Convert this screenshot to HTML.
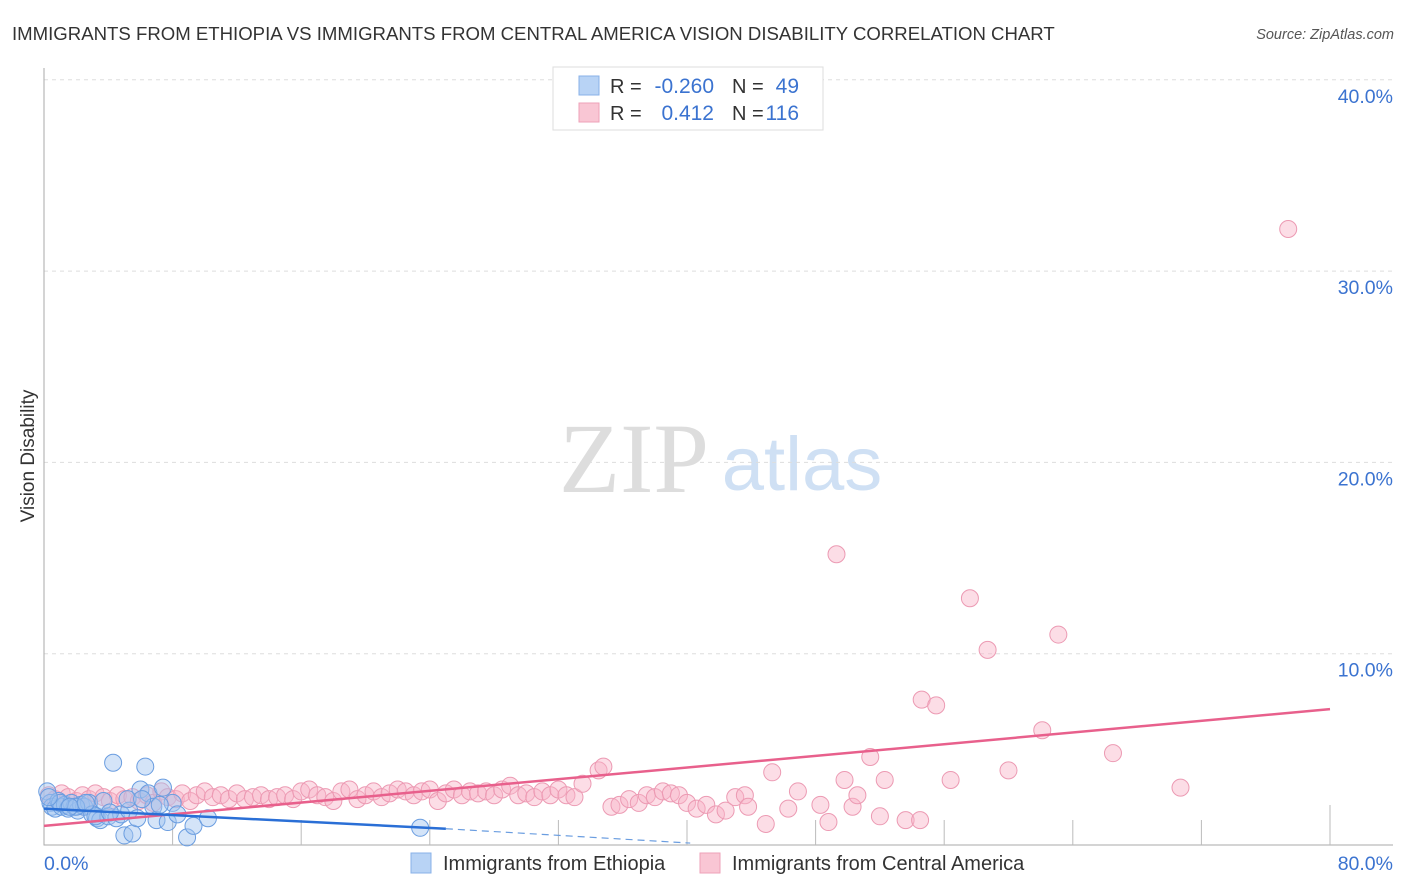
<!DOCTYPE html>
<html><head><meta charset="utf-8"><style>
body{margin:0;background:#fff;font-family:"Liberation Sans",sans-serif;}
#wrap{position:relative;width:1406px;height:892px;overflow:hidden;}
</style></head><body>
<div id="wrap">
<svg id="svg" width="1406" height="892" xmlns="http://www.w3.org/2000/svg">
<text x="12" y="40" font-size="18.6" fill="#333">IMMIGRANTS FROM ETHIOPIA VS IMMIGRANTS FROM CENTRAL AMERICA VISION DISABILITY CORRELATION CHART</text>
<text x="1394" y="39" font-size="14.5" fill="#555" font-style="italic" text-anchor="end">Source: ZipAtlas.com</text>
<text x="34" y="456" font-size="19" fill="#333" transform="rotate(-90 34 456)" text-anchor="middle">Vision Disability</text>
<g>
<text x="634" y="492" font-size="100" fill="#ddd" font-family="Liberation Serif,serif" text-anchor="middle">ZIP</text>
<text x="802" y="490" font-size="76" fill="#cfe0f4" text-anchor="middle">atlas</text>
</g>
<g id="grid"></g>
<g id="axes"></g>
<g id="pts"></g>
<g id="lines"></g>
<g>
<rect x="553" y="67" width="270" height="63" fill="#fff" stroke="#ddd"/>
<rect x="579" y="76" width="20" height="19" fill="#b8d3f5" stroke="#88b1e8"/>
<rect x="579" y="103" width="20" height="19" fill="#f9c6d4" stroke="#eea2b8"/>
<text x="610" y="93" font-size="20" fill="#333">R =</text>
<text x="714" y="93" font-size="21" fill="#3b73d0" text-anchor="end">-0.260</text>
<text x="732" y="93" font-size="20" fill="#333">N =</text>
<text x="799" y="93" font-size="21" fill="#3b73d0" text-anchor="end">49</text>
<text x="610" y="120" font-size="20" fill="#333">R =</text>
<text x="714" y="120" font-size="21" fill="#3b73d0" text-anchor="end">0.412</text>
<text x="732" y="120" font-size="20" fill="#333">N =</text>
<text x="799" y="120" font-size="21" fill="#3b73d0" text-anchor="end">116</text>
</g>
<g>
<rect x="411" y="853" width="20" height="20" fill="#b8d3f5" stroke="#88b1e8"/>
<text x="443" y="870" font-size="20" fill="#333">Immigrants from Ethiopia</text>
<rect x="700" y="853" width="20" height="20" fill="#f9c6d4" stroke="#eea2b8"/>
<text x="732" y="870" font-size="20" fill="#333">Immigrants from Central America</text>
</g>
</svg>
</div>
<script>
const yTicks=[10,20,30,40];
const yTickLabels=["10.0%","20.0%","30.0%","40.0%"];
const xTickLabels=["0.0%","80.0%"];
const blueX=[0.2,0.4,0.5,0.7,0.9,1.1,1.3,1.5,1.7,1.9,2.1,2.3,2.5,2.8,3.0,3.3,3.5,3.7,4.0,4.3,4.5,4.8,5.0,5.3,5.5,5.8,6.0,6.3,6.5,6.8,7.0,7.4,7.7,8.0,8.3,8.9,9.3,10.2,23.4,1.0,2.0,3.2,5.2,6.1,7.2,1.6,2.6,4.1,0.3];
const blueY=[2.8,2.2,2.0,1.9,2.3,2.0,2.1,1.9,2.2,2.0,1.8,2.1,2.0,2.2,1.6,1.4,1.3,2.3,1.5,4.3,1.4,1.6,0.5,1.8,0.6,1.4,2.9,4.1,2.7,2.0,1.3,3.0,1.2,2.2,1.6,0.4,1.0,1.4,0.9,2.2,2.0,1.5,2.4,2.4,2.1,2.0,2.2,1.7,2.5];
const pinkX=[0.3,0.7,1.1,1.5,2.0,2.4,2.8,3.2,3.7,4.1,4.6,5.0,5.5,5.9,6.4,6.8,7.3,7.7,8.2,8.6,9.1,9.5,10.0,10.5,11.0,11.5,12.0,12.5,13.0,13.5,14.0,14.5,15.0,15.5,16.0,16.5,17.0,17.5,18.0,18.5,19.0,19.5,20.0,20.5,21.0,21.5,22.0,22.5,23.0,23.5,24.0,24.5,25.0,25.5,26.0,26.5,27.0,27.5,28.0,28.5,29.0,29.5,30.0,30.5,31.0,31.5,32.0,32.5,33.0,33.5,34.5,34.8,35.3,35.8,36.4,37.0,37.5,38.0,38.5,39.0,39.5,40.0,40.6,41.2,41.8,42.4,43.0,43.6,43.8,44.9,45.3,46.3,46.9,48.3,48.8,49.3,49.8,50.3,50.6,51.4,52.0,52.3,53.6,54.5,54.6,55.5,56.4,57.6,58.7,60.0,62.1,63.1,66.5,70.7,77.4,2.5];
const pinkY=[2.6,2.4,2.7,2.5,2.3,2.6,2.4,2.7,2.5,2.3,2.6,2.4,2.5,2.3,2.6,2.2,2.8,2.5,2.4,2.7,2.3,2.6,2.8,2.5,2.6,2.4,2.7,2.4,2.5,2.6,2.4,2.5,2.6,2.4,2.8,2.9,2.6,2.5,2.3,2.8,2.9,2.4,2.6,2.8,2.5,2.7,2.9,2.8,2.6,2.8,2.9,2.3,2.7,2.9,2.6,2.8,2.7,2.8,2.6,2.9,3.1,2.6,2.7,2.5,2.8,2.6,2.9,2.6,2.5,3.2,3.9,4.1,2.0,2.1,2.4,2.2,2.6,2.5,2.8,2.7,2.6,2.2,1.9,2.1,1.6,1.8,2.5,2.6,2.0,1.1,3.8,1.9,2.8,2.1,1.2,15.2,3.4,2.0,2.6,4.6,1.5,3.4,1.3,1.3,7.6,7.3,3.4,12.9,10.2,3.9,6.0,11.0,4.8,3.0,32.2,2.0];
const X=v=>44+v*16.075, Y=v=>845-v*19.13;
const NS='http://www.w3.org/2000/svg';
function mk(t,a,p){const e=document.createElementNS(NS,t);for(const k in a)e.setAttribute(k,a[k]);p.appendChild(e);return e;}
const grid=document.getElementById('grid'),axes=document.getElementById('axes'),pts=document.getElementById('pts'),lines=document.getElementById('lines');
yTicks.forEach((t,i)=>{
 const g=mk('line',{x1:44,x2:1393,y1:Y(t),y2:Y(t),stroke:'#ddd','stroke-dasharray':'4,4'},grid);
 
 
 const l=mk('text',{x:1393,y:Y(t)+23,'font-size':19.5,fill:'#3b73d0','text-anchor':'end'},grid);
 l.textContent=yTickLabels[i];
 
 
});
const ax=mk('path',{d:'M44 68V845H1393',fill:'none',stroke:'#aaa'},axes);


for(let i=1;i<=10;i++){const v=i*8;const tk=mk('line',{x1:X(v),x2:X(v),y1:845,y2:i==10?805:820,stroke:'#bbb'},axes);
 
 }
const xl0=mk('text',{x:44,y:870,'font-size':19.5,fill:'#3b73d0'},axes);xl0.textContent=xTickLabels[0];


const xl1=mk('text',{x:1393,y:870,'font-size':19.5,fill:'#3b73d0','text-anchor':'end'},axes);xl1.textContent=xTickLabels[1];


pinkX.forEach((v,i)=>{const c=mk('circle',{cx:X(v),cy:Y(pinkY[i]),r:8.5,fill:'rgba(248,180,200,0.45)',stroke:'#ec9ab3','stroke-width':1},pts);
 
 });
blueX.forEach((v,i)=>{const c=mk('circle',{cx:X(v),cy:Y(blueY[i]),r:8.5,fill:'rgba(160,196,240,0.45)',stroke:'#6a9de0','stroke-width':1},pts);
 
 });
const pl=mk('line',{x1:X(0),y1:Y(1.0),x2:X(80),y2:Y(7.1),stroke:'#e8608c','stroke-width':2.5},lines);


const bl=mk('line',{x1:X(0),y1:Y(1.9),x2:X(25),y2:Y(0.85),stroke:'#2a6fd6','stroke-width':2.5},lines);


const bd=mk('line',{x1:X(25),y1:Y(0.85),x2:X(40.2),y2:Y(0.1),stroke:'#6a9de0','stroke-width':1.2,'stroke-dasharray':'7,5'},lines);


</script>
</body></html>
